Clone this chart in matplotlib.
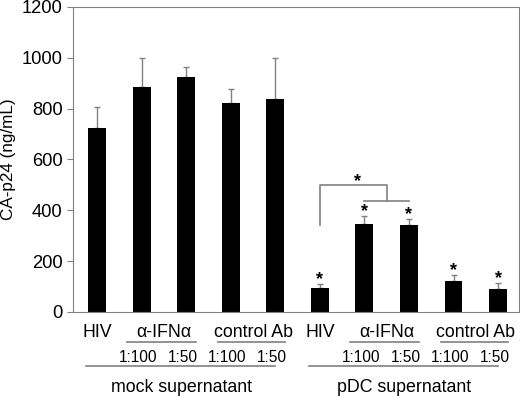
import numpy as np
import matplotlib
matplotlib.use("Agg")
import matplotlib.pyplot as plt

plt.rcParams['font.family'] = ['Liberation Sans', 'DejaVu Sans']

# data
means = [724, 886, 925, 823, 838, 94, 346, 342, 122, 91]
errs = [83, 114, 40, 55, 162, 16, 32, 24, 24, 23]
starred = [5, 6, 7, 8, 9]
yticks = [0, 200, 400, 600, 800, 1000, 1200]
group_labels = ["mock supernatant", "pDC supernatant"]
treat_labels = ["HIV", "\u03b1-IFN\u03b1", "control Ab"]
dil_labels = ["1:100", "1:50"]

gray = "#808080"
x = np.arange(len(means))

fig = plt.figure(figsize=(5.2, 3.96), dpi=100)
ax = fig.add_axes([73 / 520, 84 / 396, 446 / 520, 305 / 396])

ax.bar(x, means, width=0.4, color="black", zorder=2)
ax.errorbar(x, means, yerr=[np.zeros(len(errs)), errs], fmt="none",
            ecolor=gray, elinewidth=1, capsize=2, capthick=1, zorder=1)

for i in starred:
    ax.text(x[i], means[i] + errs[i] + 18, "*", ha="center", va="center",
            fontsize=13, fontweight="bold")

# bracket comparing HIV with alpha-IFNa
ax.plot([5, 5, 6.5, 6.5], [343, 500, 500, 437], color=gray, lw=1.2)
ax.plot([6, 7], [437, 437], color=gray, lw=1.2)
ax.text(5.85, 512, "*", ha="center", va="center", fontsize=13, fontweight="bold")

ax.set_xlim(-0.54, 9.47)
ax.set_ylim(0, 1200)
ax.set_yticks(yticks)
ax.tick_params(axis="y", colors=gray, labelcolor="black", labelsize=13.2, length=4)
ax.set_xticks([])
for s in ax.spines.values():
    s.set_color(gray)
ax.set_ylabel("CA-p24 (ng/mL)", fontsize=12.3, labelpad=4)

# category labels under the axis
tr = ax.get_xaxis_transform()
kw = dict(transform=tr, clip_on=False, color=gray, lw=1.2)
for g, base in enumerate([0, 5]):
    ax.text(base + 0, -0.066, treat_labels[0], transform=tr, ha="center", va="center", fontsize=12.8)
    ax.text(base + 1.5, -0.066, treat_labels[1], transform=tr, ha="center", va="center", fontsize=12.8)
    ax.text(base + 3.5, -0.066, treat_labels[2], transform=tr, ha="center", va="center", fontsize=12.8)
    ax.plot([base + 0.68, base + 2.22], [-0.098, -0.098], **kw)
    ax.plot([base + 2.72, base + 4.22], [-0.098, -0.098], **kw)
    for k in range(4):
        ax.text(base + 1 + k - 0.07, -0.148, dil_labels[k % 2], transform=tr,
                ha="center", va="center", fontsize=11.2)
    ax.plot([base - 0.25, base + 4.0], [-0.177, -0.177], **kw)
    ax.text(base + 1.9, -0.246, group_labels[g], transform=tr, ha="center",
            va="center", fontsize=12.8)

plt.savefig("out.png", dpi=100)
